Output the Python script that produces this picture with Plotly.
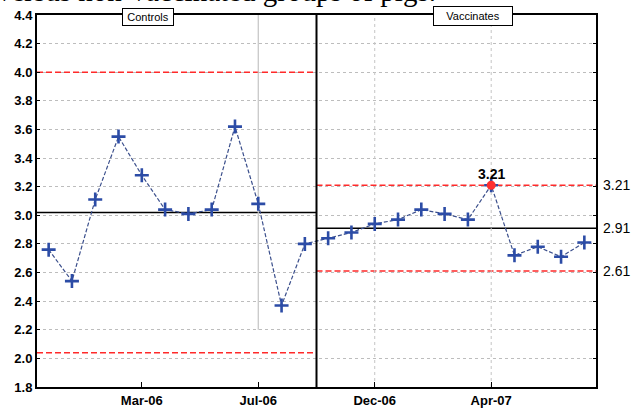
import plotly.graph_objects as go

# Sample index along the horizontal axis (one point per sampling visit)
controls_samples = list(range(1, 13))
vaccinates_samples = list(range(13, 25))

# Mean values per visit
controls_values = [2.76, 2.54, 3.11, 3.55, 3.28, 3.04, 3.01, 3.04, 3.62, 3.08, 2.37, 2.80]
vaccinates_values = [2.84, 2.88, 2.94, 2.97, 3.04, 3.01, 2.97, 3.21, 2.72, 2.78, 2.71, 2.81]

# Control limits: lower, centre, upper
controls_limits = [2.04, 3.02, 4.00]
vaccinates_limits = [2.61, 2.91, 3.21]

# Date labels on the horizontal axis
date_tick_samples = [5, 10, 15, 20]
date_tick_labels = ["Mar-06", "Jul-06", "Dec-06", "Apr-07"]

group_names = ["Controls", "Vaccinates"]
out_of_control_sample = 20

all_samples = controls_samples + vaccinates_samples
all_values = controls_values + vaccinates_values

X0, XMID, X1 = 0.5, 12.5, 24.5
Y0, Y1 = 1.8, 4.4

fig = go.Figure()

fig.add_trace(go.Scatter(
    x=all_samples, y=all_values, mode="lines+markers",
    line=dict(color="#3b4f8c", width=1.2, dash="4px,2px"),
    marker=dict(symbol="cross-thin", size=10, line=dict(color="#2c4ca6", width=2.6)),
    showlegend=False, hoverinfo="x+y",
))

idx = all_samples.index(out_of_control_sample)
flag_value = all_values[idx]
fig.add_trace(go.Scatter(
    x=[out_of_control_sample], y=[flag_value], mode="markers",
    marker=dict(symbol="circle", size=9, color="#ff3030"),
    showlegend=False,
))

# invisible trace that carries the right-hand axis
fig.add_trace(go.Scatter(x=[X0], y=[Y0], yaxis="y2", mode="markers",
                         marker=dict(opacity=0), showlegend=False, hoverinfo="skip"))

shapes = []
# control lines per group
for (xa, xb), lims in (((X0, XMID), controls_limits), ((XMID, X1), vaccinates_limits)):
    lcl, cl, ucl = lims
    for v in (lcl, ucl):
        shapes.append(dict(type="line", x0=xa, x1=xb, y0=v, y1=v, layer="between",
                           line=dict(color="#ff2a2a", width=1.5, dash="6px,3px")))
    shapes.append(dict(type="line", x0=xa, x1=xb, y0=cl, y1=cl, layer="between",
                       line=dict(color="black", width=1.6)))

# vertical grid lines at date ticks
grid_style = dict(color="#c4c4c4", width=1.2)
shapes.append(dict(type="line", x0=date_tick_samples[1], x1=date_tick_samples[1],
                   y0=2.2, y1=Y1, layer="between", line=grid_style))
for s in date_tick_samples[2:]:
    shapes.append(dict(type="line", x0=s, x1=s, y0=Y0, y1=Y1, layer="between",
                       line=dict(color="#c4c4c4", width=1, dash="dot")))

# group divider
shapes.append(dict(type="line", x0=XMID, x1=XMID, y0=Y0, y1=Y1,
                   line=dict(color="black", width=2)))

annotations = [
    dict(x=out_of_control_sample, y=flag_value, text=f"{flag_value:.2f}",
         showarrow=False, yanchor="bottom", yshift=1,
         font=dict(family="Liberation Sans, Arial", size=14, color="black", weight="bold")),
    dict(x=5.25, y=1.0, yref="paper", text=group_names[0], showarrow=False,
         yanchor="middle", yshift=-2,
         bgcolor="white", bordercolor="black", borderwidth=1, borderpad=1,
         width=48, height=14,
         font=dict(family="Liberation Sans, Arial", size=11, color="black")),
    dict(x=19.2, y=1.0, yref="paper", text=group_names[1], showarrow=False,
         yanchor="middle", yshift=-1,
         bgcolor="white", bordercolor="black", borderwidth=1, borderpad=1,
         width=76, height=16,
         font=dict(family="Liberation Sans, Arial", size=11, color="black")),
    dict(x=-0.075, xref="paper", y=1.0, yref="paper", yshift=6,
         text="versus non-vaccinated groups of pigs.", showarrow=False,
         xanchor="left", yanchor="bottom",
         font=dict(family="Liberation Serif, Times New Roman", size=29, color="black")),
]

fig.update_layout(
    width=631, height=410,
    margin=dict(l=37, r=35, t=15, b=23, autoexpand=False),
    paper_bgcolor="white", plot_bgcolor="white",
    shapes=shapes, annotations=annotations,
    showlegend=False,
    xaxis=dict(range=[X0, X1], tickvals=date_tick_samples, ticktext=date_tick_labels,
               automargin=False,
               showgrid=False, zeroline=False, showline=True, linecolor="black",
               linewidth=2, mirror=True, ticks="inside", ticklen=5, tickcolor="black",
               tickfont=dict(family="Liberation Sans, Arial", size=13, color="black",
                             weight="bold")),
    yaxis=dict(range=[Y0, Y1], dtick=0.2, tick0=1.8, tickformat=".1f",
               automargin=False,
               showgrid=True, gridcolor="#bdbdbd", griddash="dot", gridwidth=1,
               zeroline=False, showline=True, linecolor="black", linewidth=2,
               mirror="ticks", ticks="inside", ticklen=3, tickcolor="black",
               tickfont=dict(family="Liberation Sans, Arial", size=13, color="black",
                             weight="bold")),
    yaxis2=dict(range=[Y0, Y1], overlaying="y", side="right",
                tickvals=vaccinates_limits,
                ticktext=[f"{v:.2f}" for v in vaccinates_limits],
                automargin=False,
                showgrid=False, zeroline=False, showline=False, ticks="",
                ticklabelstandoff=6,
                tickfont=dict(family="Liberation Sans, Arial", size=14, color="black")),
)

fig.write_html("out.html")
